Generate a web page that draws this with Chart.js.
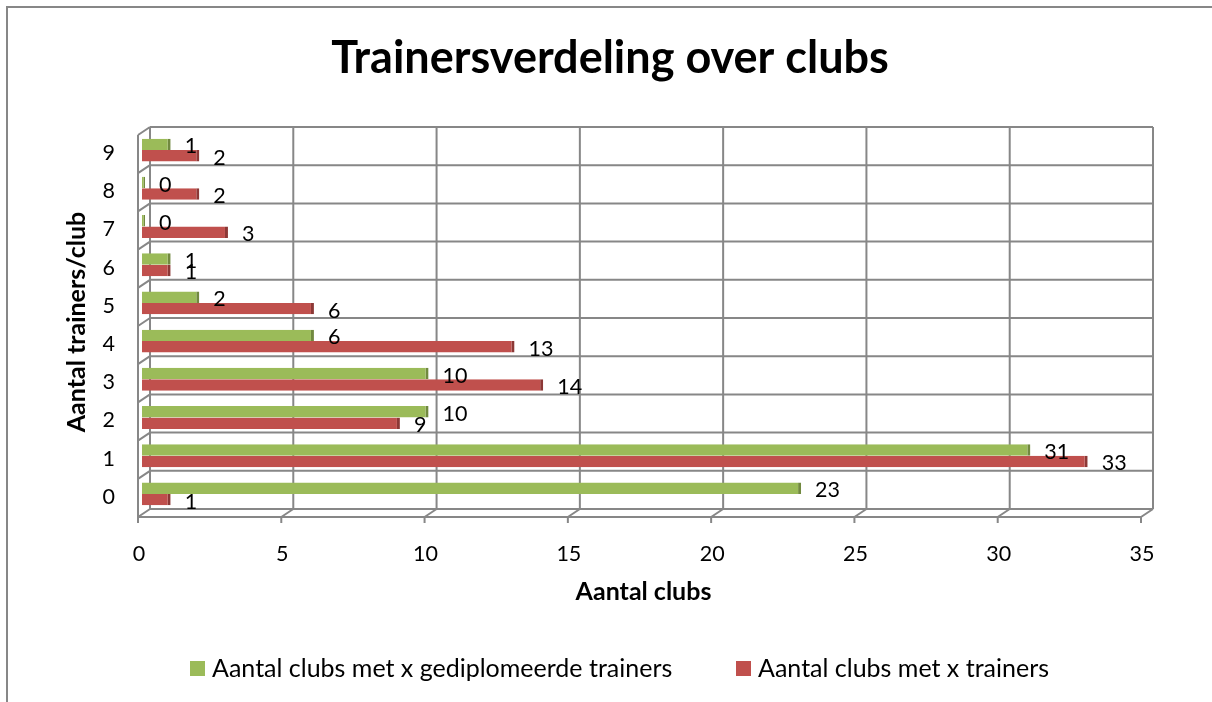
<!DOCTYPE html>
<html>
<head>
<meta charset="utf-8">
<script src="https://cdn.jsdelivr.net/npm/chart.js@4.4.1/dist/chart.umd.min.js"></script>
<style>
html,body{margin:0;padding:0;background:#fff;}
#wrap{position:absolute;left:0;top:0;width:1212px;height:702px;}
</style>
</head>
<body>
<div id="wrap"><canvas id="c" width="1212" height="702"></canvas></div>
<script>
const categories = ['0','1','2','3','4','5','6','7','8','9'];
const gediplomeerd = [23, 31, 10, 10, 6, 2, 1, 0, 0, 1];
const trainers = [1, 33, 9, 14, 13, 6, 1, 3, 2, 2];
const xTickValues = [0, 5, 10, 15, 20, 25, 30, 35];
const seriesNames = ['Aantal clubs met x gediplomeerde trainers', 'Aantal clubs met x trainers'];
const titleText = 'Trainersverdeling over clubs';
const xTitle = 'Aantal clubs';
const yTitle = 'Aantal trainers/club';

const FONT = 'Lato, "Open Sans", sans-serif';
const GRID = '#878787';

const frame = {
  id: 'frame',
  beforeDraw(chart) {
    const ctx = chart.ctx;
    ctx.save();
    ctx.fillStyle = '#fff';
    ctx.fillRect(0, 0, chart.width, chart.height);
    ctx.strokeStyle = GRID;
    ctx.lineWidth = 2;
    ctx.beginPath();
    ctx.moveTo(7, 702); ctx.lineTo(7, 7); ctx.lineTo(1212, 7);
    ctx.stroke();
    ctx.restore();
  },
  afterDraw(chart) {
    const ctx = chart.ctx;
    ctx.save();
    // chart title
    ctx.fillStyle = '#000';
    ctx.font = 'bold 45px ' + FONT;
    ctx.textAlign = 'center';
    ctx.textBaseline = 'middle';
    ctx.fillText(titleText, 610, 58);
    // legend
    ctx.font = '25px ' + FONT;
    ctx.textAlign = 'left';
    const items = [{x: 190}, {x: 736}];
    chart.data.datasets.forEach((ds, i) => {
      const x = items[i].x, y = 669;
      ctx.fillStyle = ds.backgroundColor;
      ctx.fillRect(x, y - 8, 15, 15);
      ctx.fillStyle = '#000';
      ctx.fillText(ds.label, x + 22, y);
    });
    ctx.restore();
  }
};

const grid3d = {
  id: 'grid3d',
  beforeDatasetsDraw(chart) {
    const ctx = chart.ctx, xs = chart.scales.x, ca = chart.chartArea;
    const dxB = 8, dyB = -4, dxF = -4, dyF = 4;
    const x0 = xs.getPixelForValue(0), x1 = xs.getPixelForValue(35);
    const n = categories.length;
    ctx.save();
    ctx.strokeStyle = GRID;
    ctx.lineWidth = 2;
    ctx.beginPath();
    xTickValues.forEach(v => {
      const x = xs.getPixelForValue(v) + dxB;
      ctx.moveTo(x, ca.top + dyB); ctx.lineTo(x, ca.bottom + dyB);
    });
    for (let i = 0; i <= n; i++) {
      const y = ca.top + i * (ca.bottom - ca.top) / n + dyB;
      ctx.moveTo(x0 + dxB, y); ctx.lineTo(x1 + dxB, y);
      ctx.moveTo(x0 + dxB, y); ctx.lineTo(x0 + dxF, y + (dyF - dyB));
    }
    ctx.moveTo(x0 + dxF, ca.top + dyF); ctx.lineTo(x0 + dxF, ca.bottom + dyF);
    ctx.moveTo(x0 + dxF, ca.bottom + dyF); ctx.lineTo(x1 + dxF, ca.bottom + dyF);
    xTickValues.forEach(v => {
      const x = xs.getPixelForValue(v);
      ctx.moveTo(x + dxB, ca.bottom + dyB); ctx.lineTo(x + dxF, ca.bottom + dyF);
      ctx.moveTo(x + dxF, ca.bottom + dyF); ctx.lineTo(x + dxF, ca.bottom + dyF + 6);
    });
    ctx.stroke();
    ctx.restore();
  }
};

const valueLabels = {
  id: 'valueLabels',
  afterDatasetsDraw(chart) {
    const ctx = chart.ctx;
    ctx.save();
    ctx.font = '21.5px ' + FONT;
    ctx.fillStyle = '#000';
    ctx.textAlign = 'left';
    ctx.textBaseline = 'middle';
    chart.data.datasets.forEach((ds, di) => {
      const meta = chart.getDatasetMeta(di);
      meta.data.forEach((el, i) => {
        ctx.fillText(String(ds.data[i]), el.x + 14, el.y + 2);
      });
    });
    ctx.restore();
  }
};

new Chart(document.getElementById('c'), {
  type: 'bar',
  data: {
    labels: categories,
    datasets: [
      {
        label: seriesNames[0],
        data: gediplomeerd,
        backgroundColor: '#9BBB59',
        borderColor: '#71893F',
        borderWidth: {top: 0, left: 0, bottom: 0, right: 3},
        borderSkipped: false,
        minBarLength: 3,
        categoryPercentage: 0.6,
        barPercentage: 1.0
      },
      {
        label: seriesNames[1],
        data: trainers,
        backgroundColor: '#C0504D',
        borderColor: '#8C3836',
        borderWidth: {top: 0, left: 0, bottom: 0, right: 3},
        borderSkipped: false,
        minBarLength: 3,
        categoryPercentage: 0.6,
        barPercentage: 1.0
      }
    ]
  },
  options: {
    indexAxis: 'y',
    responsive: false,
    animation: false,
    devicePixelRatio: 1,
    layout: {padding: {left: 50, right: 67, top: 131, bottom: 0}},
    scales: {
      x: {
        min: 0, max: 35,
        grid: {display: false, drawTicks: false},
        border: {display: false},
        ticks: {stepSize: 5, font: {family: FONT, size: 21.5}, color: '#000', padding: 28, labelOffset: -3, maxRotation: 0},
        title: {display: true, text: xTitle, font: {family: FONT, size: 25, weight: 'bold'}, color: '#000', padding: {top: 0, bottom: 95}},
        afterFit(s) { s.height = 189; }
      },
      y: {
        reverse: true,
        grid: {display: false, drawTicks: false},
        border: {display: false},
        ticks: {font: {family: FONT, size: 21.5}, color: '#000', padding: 27, labelOffset: 3},
        title: {display: true, text: yTitle, font: {family: FONT, size: 25, weight: 'bold'}, color: '#000', padding: {top: 12, bottom: 0}},
        afterFit(s) { s.width = 92; }
      }
    },
    plugins: {
      title: {display: false},
      legend: {display: false},
      tooltip: {enabled: false}
    }
  },
  plugins: [frame, grid3d, valueLabels]
});
</script>
</body>
</html>
